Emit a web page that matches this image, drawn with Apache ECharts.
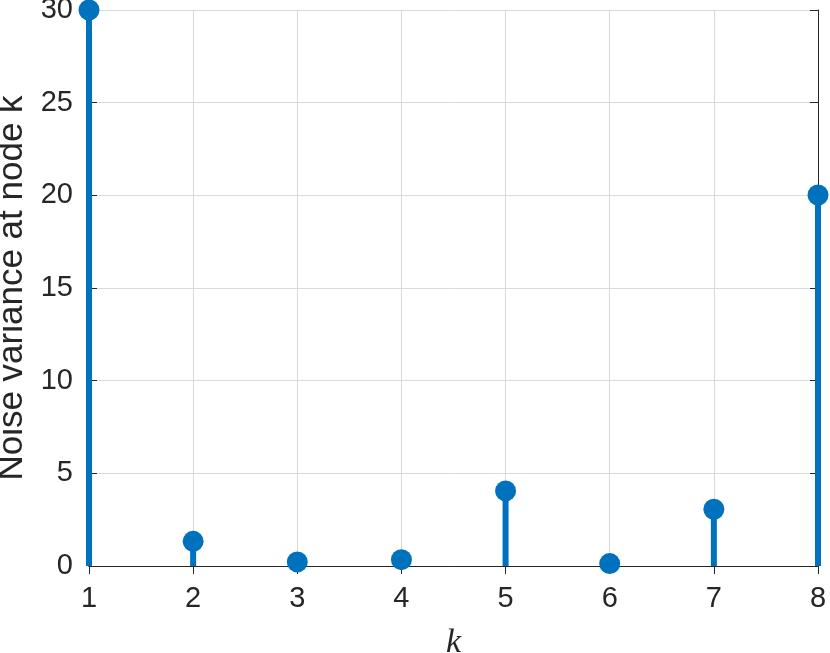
<!DOCTYPE html>
<html>
<head>
<meta charset="utf-8">
<script src="https://cdn.jsdelivr.net/npm/echarts@6/dist/echarts.min.js"></script>
<style>
  html, body { margin: 0; padding: 0; background: #fff; }
  #chart { width: 830px; height: 653px; }
</style>
</head>
<body>
<div id="chart"></div>
<script>
// ============ Data ============
const nodes = [1, 2, 3, 4, 5, 6, 7, 8]
const noiseVariance = [30, 1.33, 0.22, 0.34, 4.05, 0.13, 3.06, 20.02]
const yTicks = [0, 5, 10, 15, 20, 25, 30]

const points = nodes.map((k, i) => [k, noiseVariance[i]])

const blue = '#0072BD'
const ink = '#262626'
const gridGray = '#dadada'
const tickFont = { fontFamily: 'Liberation Sans', fontSize: 29, color: ink }

const chart = echarts.init(document.getElementById('chart'))

// top / right box edges with inward ticks, no labels
const edgeAxis = {
  type: 'value',
  axisLine: { show: true, lineStyle: { color: ink, width: 1 } },
  axisTick: { show: true, inside: true, length: 8, lineStyle: { color: ink } },
  axisLabel: { show: false },
  splitLine: { show: false },
}

chart.setOption({
  animation: false,
  grid: { left: 89, right: 12, top: 10, bottom: 87, containLabel: false, outerBoundsMode: 'none' },
  xAxis: [
    {
      type: 'value',
      position: 'bottom',
      min: nodes[0],
      max: nodes[nodes.length - 1],
      interval: 1,
      name: 'k',
      nameLocation: 'middle',
      nameGap: 60,
      nameTextStyle: { fontFamily: 'Liberation Serif', fontStyle: 'italic', fontSize: 34, color: ink },
      axisLine: { show: true, onZero: false, lineStyle: { color: ink, width: 1 } },
      axisTick: { show: true, inside: true, length: 8, lineStyle: { color: ink } },
      axisLabel: { ...tickFont, margin: 18 },
      splitLine: { show: true, lineStyle: { color: gridGray, width: 1 } },
    },
    { ...edgeAxis, position: 'top', min: 1, max: 8, interval: 1 },
  ],
  yAxis: [
    {
      type: 'value',
      position: 'left',
      min: yTicks[0],
      max: yTicks[yTicks.length - 1],
      interval: yTicks[1] - yTicks[0],
      name: 'Noise variance at node k',
      nameLocation: 'middle',
      nameRotate: 90,
      nameGap: 58,
      nameTextStyle: { fontFamily: 'Liberation Sans', fontSize: 35, color: ink },
      axisLine: { show: true, onZero: false, lineStyle: { color: ink, width: 1 } },
      axisTick: { show: true, inside: true, length: 8, lineStyle: { color: ink } },
      axisLabel: { ...tickFont, margin: 16 },
      splitLine: { show: true, lineStyle: { color: gridGray, width: 1 } },
    },
    { ...edgeAxis, position: 'right', min: 0, max: 30, interval: 5 },
  ],
  series: [
    {
      // stems
      type: 'bar',
      data: points,
      barWidth: 6,
      clip: false,
      itemStyle: { color: blue },
      z: 3,
    },
    {
      // stem heads
      type: 'scatter',
      data: points,
      symbol: 'circle',
      symbolSize: 21,
      clip: false,
      itemStyle: { color: blue, opacity: 1 },
      z: 4,
    },
  ],
})
</script>
</body>
</html>
